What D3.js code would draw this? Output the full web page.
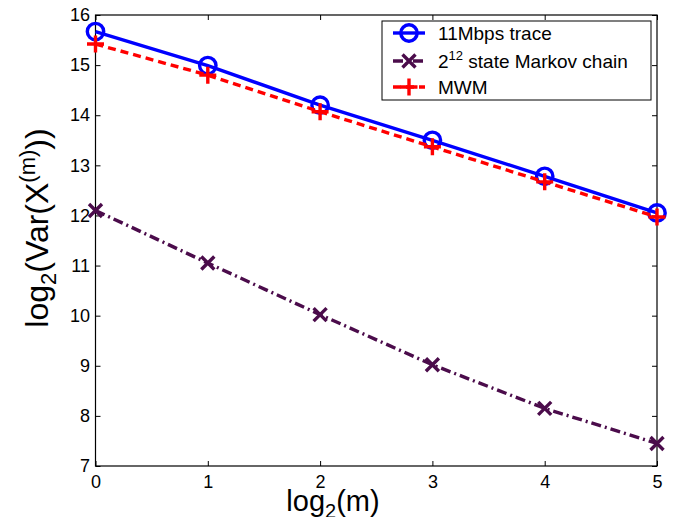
<!DOCTYPE html>
<html>
<head>
<meta charset="UTF-8">
<style>
  body { margin: 0; background: #fff; }
  svg { display: block; font-family: "Liberation Sans", Arial, sans-serif; }
</style>
</head>
<body>
<svg width="680" height="517"></svg>
<script src="https://d3js.org/d3.v7.min.js"></script>
<script>
// log2(m) on the x axis
const xVals = [0, 1, 2, 3, 4, 5];
const traceVals = [15.67, 14.99, 14.20, 13.50, 12.78, 12.05];
const markovVals = [12.10, 11.05, 10.02, 9.02, 8.15, 7.45];
const mwmVals = [15.42, 14.80, 14.07, 13.37, 12.67, 11.97];
const xTicks = [0, 1, 2, 3, 4, 5];
const yTicks = [7, 8, 9, 10, 11, 12, 13, 14, 15, 16];
const seriesNames = ["11Mbps trace", "state Markov chain", "MWM"];

const svg = d3.select("svg");
const pLeft = 95.5, pRight = 657, pTop = 15, pBottom = 466;

const x = d3.scaleLinear().domain([0, 5]).range([pLeft, pRight]);
const y = d3.scaleLinear().domain([7, 16]).range([pBottom, pTop]);

// axes with inward ticks on all four sides
function styleAxis(g) {
  g.select(".domain").remove();
  g.selectAll(".tick line").attr("stroke", "#000");
  g.selectAll("text").attr("font-size", "18px").attr("fill", "#000")
    .attr("font-family", "Liberation Sans, Arial, sans-serif");
}
svg.append("g").attr("transform", `translate(0,${pBottom})`)
  .call(d3.axisBottom(x).tickValues(xTicks).tickSizeInner(-5).tickSizeOuter(0).tickPadding(9).tickFormat(d3.format("d")))
  .call(styleAxis);
svg.append("g").attr("transform", `translate(0,${pTop})`)
  .call(d3.axisTop(x).tickValues(xTicks).tickSizeInner(-5).tickSizeOuter(0).tickFormat(""))
  .call(styleAxis);
svg.append("g").attr("transform", `translate(${pLeft},0)`)
  .call(d3.axisLeft(y).tickValues(yTicks).tickSizeInner(-5).tickSizeOuter(0).tickPadding(5.5).tickFormat(d3.format("d")))
  .call(styleAxis);
svg.append("g").attr("transform", `translate(${pRight},0)`)
  .call(d3.axisRight(y).tickValues(yTicks).tickSizeInner(-5).tickSizeOuter(0).tickFormat(""))
  .call(styleAxis);

svg.append("rect")
  .attr("x", pLeft).attr("y", pTop)
  .attr("width", pRight - pLeft).attr("height", pBottom - pTop)
  .attr("fill", "none").attr("stroke", "#000").attr("stroke-width", 1.2);

const series = [
  { name: seriesNames[0], vals: traceVals, color: "#0000ff", dash: null, marker: "circle" },
  { name: seriesNames[1], vals: markovVals, color: "#4b0c4b", dash: "10,4,2,4", marker: "x" },
  { name: seriesNames[2], vals: mwmVals, color: "#ff0000", dash: "8,5", marker: "plus" }
];

function drawMarker(g, type, cx, cy, color) {
  if (type === "circle") {
    g.append("circle").attr("cx", cx).attr("cy", cy).attr("r", 8.2)
      .attr("fill", "none").attr("stroke", color).attr("stroke-width", 3.4);
  } else if (type === "plus") {
    g.append("path").attr("d", `M${cx - 8.5},${cy}H${cx + 8.5}M${cx},${cy - 8.5}V${cy + 8.5}`)
      .attr("stroke", color).attr("stroke-width", 3.4).attr("fill", "none");
  } else {
    const s = 6.5;
    g.append("path").attr("d", `M${cx - s},${cy - s}L${cx + s},${cy + s}M${cx - s},${cy + s}L${cx + s},${cy - s}`)
      .attr("stroke", color).attr("stroke-width", 3.4).attr("fill", "none");
  }
}

const line = d3.line().x((d, i) => x(xVals[i])).y(d => y(d));

series.forEach(s => {
  const g = svg.append("g");
  g.append("path").datum(s.vals)
    .attr("d", line)
    .attr("fill", "none")
    .attr("stroke", s.color)
    .attr("stroke-width", 3.4)
    .attr("stroke-dasharray", s.dash);
  s.vals.forEach((v, i) => drawMarker(g, s.marker, x(xVals[i]), y(v), s.color));
});

// legend
const lg = svg.append("g");
lg.append("rect").attr("x", 382).attr("y", 21).attr("width", 269).attr("height", 79)
  .attr("fill", "#fff").attr("stroke", "#000").attr("stroke-width", 1);
const rowY = [33, 61, 87];
series.forEach((s, i) => {
  const yy = rowY[i];
  lg.append("line").attr("x1", 393).attr("x2", 425).attr("y1", yy).attr("y2", yy)
    .attr("stroke", s.color).attr("stroke-width", 3.4).attr("stroke-dasharray", s.dash);
  drawMarker(lg, s.marker, 409, yy, s.color);
  const t = lg.append("text").attr("x", 438).attr("y", yy + 7)
    .attr("font-size", "19px").attr("fill", "#000");
  if (i === 1) {
    t.append("tspan").text("2");
    t.append("tspan").attr("dy", -8).attr("font-size", "13px").text("12");
    t.append("tspan").attr("dy", 8).text(" " + s.name);
  } else {
    t.text(s.name);
  }
});

// axis labels
const xl = svg.append("text").attr("x", 333).attr("y", 511)
  .attr("text-anchor", "middle").attr("font-size", "29px").attr("fill", "#000");
xl.append("tspan").text("log");
xl.append("tspan").attr("dy", 7).attr("font-size", "20px").text("2");
xl.append("tspan").attr("dy", -7).text("(m)");

const yl = svg.append("text").attr("transform", "translate(48,228) rotate(-90)")
  .attr("text-anchor", "middle").attr("font-size", "32px").attr("fill", "#000");
yl.append("tspan").text("log");
yl.append("tspan").attr("dy", 8).attr("font-size", "22px").text("2");
yl.append("tspan").attr("dy", -8).text("(Var(X");
yl.append("tspan").attr("dy", -13).attr("font-size", "22px").text("(m)");
yl.append("tspan").attr("dy", 13).text("))");
</script>
</body>
</html>
